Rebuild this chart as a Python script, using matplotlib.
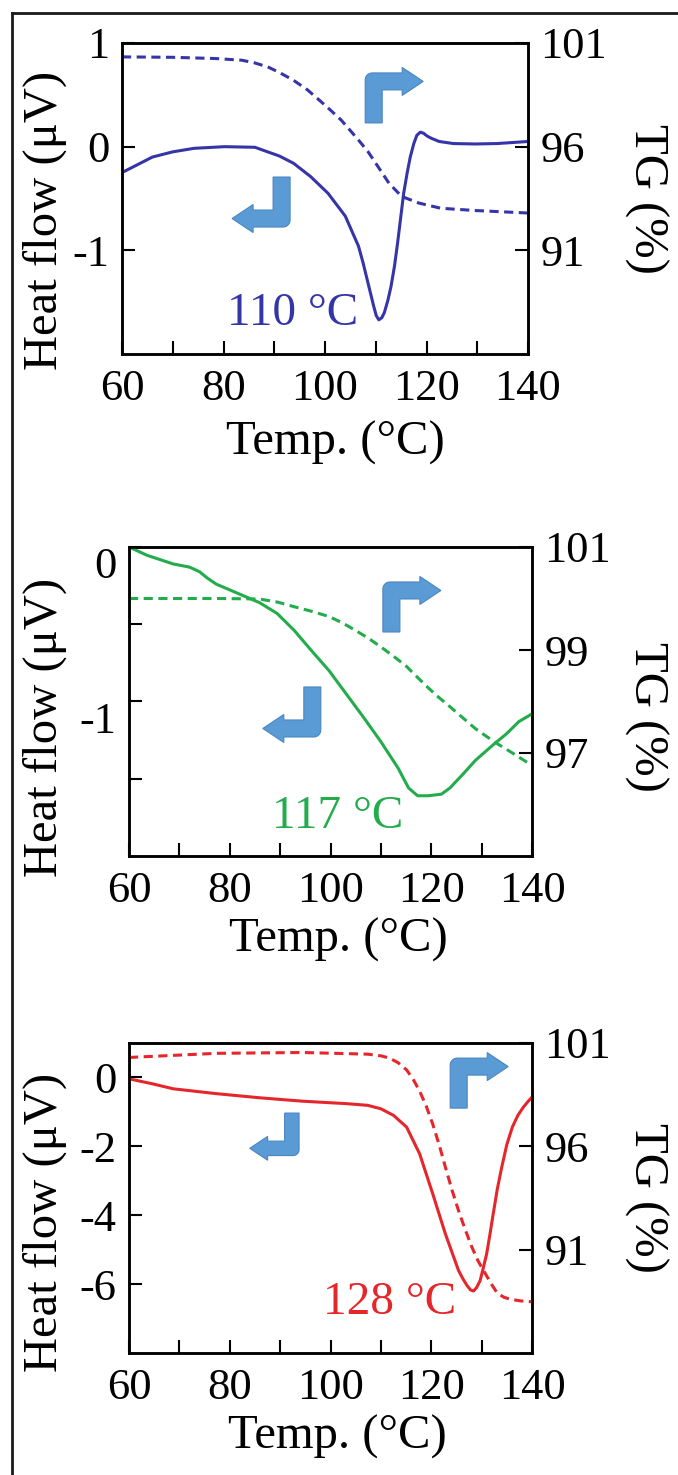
import numpy as np
import matplotlib
matplotlib.use("Agg")
import matplotlib.pyplot as plt
from matplotlib.patches import Polygon
from matplotlib.lines import Line2D
import matplotlib.transforms as mtransforms

plt.rcParams["font.family"] = ["Liberation Serif", "DejaVu Serif"]

# ── data ───────────────────────────────────────────────────────
# panel 1 (blue): DTA heat flow + TG
t1_hf = [60, 62, 64, 66, 70, 74.2, 80.2, 86.2, 88.7, 91, 93.8, 97.2, 100.6, 104,
         106.6, 107.5, 108.3, 109, 109.6, 110.1, 110.6, 111.2, 111.7, 112.4, 113,
         113.7, 114.3, 115, 115.5, 116.2, 116.8, 117.5, 118.1, 118.8, 119.4, 120.2,
         121, 122.5, 125.3, 129.6, 133.9, 140]
hf1 = [-0.25, -0.2, -0.15, -0.1, -0.05, -0.016, 0.0, -0.006, -0.05, -0.09, -0.16,
       -0.29, -0.45, -0.67, -0.96, -1.12, -1.28, -1.42, -1.54, -1.63, -1.67, -1.65,
       -1.60, -1.48, -1.35, -1.15, -0.93, -0.65, -0.45, -0.25, -0.10, 0.03, 0.11,
       0.14, 0.13, 0.10, 0.08, 0.05, 0.03, 0.026, 0.03, 0.05]
t1_tg = [60, 70, 78.5, 83.6, 86, 88.7, 91, 93.8, 96.5, 98.9, 101, 103.2, 106.6, 108.5,
         110, 112.6, 115.1, 118.5, 122.8, 129.6, 140]
tg1 = [100.33, 100.31, 100.25, 100.17, 100.05, 99.85, 99.58, 99.2, 98.75, 98.24,
       97.78, 97.28, 96.32, 95.75, 95.2, 94.24, 93.6, 93.28, 93.03, 92.92, 92.8]

# panel 2 (green)
t2_hf = [60, 63.6, 68.8, 72, 74, 75.5, 77.3, 81.6, 85.9, 89.4, 92.8, 96.2, 99.7,
         103.1, 106.5, 110, 113.4, 115.5, 117.3, 119.4, 122, 123.7, 126.3, 128.8,
         132.3, 134.9, 137.4, 140]
hf2 = [0.0, -0.054, -0.11, -0.13, -0.16, -0.2, -0.24, -0.30, -0.36, -0.43, -0.54,
       -0.67, -0.80, -0.95, -1.10, -1.26, -1.43, -1.56, -1.61, -1.61, -1.60, -1.56,
       -1.47, -1.38, -1.28, -1.21, -1.13, -1.08]
t2_tg = [60, 68.8, 78, 85.9, 89.5, 92.8, 96.3, 99.7, 102.3, 104.8, 107.5, 110,
         112.5, 115.1, 118.5, 121, 123.7, 126.3, 128.8, 131, 133.1, 135.3, 137.4, 140]
tg2 = [100.0, 100.0, 100.0, 99.99, 99.93, 99.84, 99.75, 99.65, 99.53, 99.39, 99.23,
       99.06, 98.88, 98.68, 98.35, 98.12, 97.9, 97.68, 97.47, 97.32, 97.18, 97.05,
       96.92, 96.76]

# panel 3 (red)
t3_hf = [60, 64.5, 68.8, 77.3, 85.9, 94.5, 103.1, 107.4, 110, 112.5, 115.1, 117.7,
         120.3, 122.8, 125.4, 126.3, 127.1, 127.8, 128.4, 129, 129.7, 130.3, 131,
         131.6, 132.3, 133.1, 134, 135, 136.1, 137.2, 138.3, 139.2, 140]
hf3 = [-0.04, -0.18, -0.33, -0.47, -0.59, -0.69, -0.76, -0.81, -0.91, -1.10, -1.44,
       -2.22, -3.38, -4.54, -5.6, -5.85, -6.04, -6.17, -6.2, -6.1, -5.9, -5.55,
       -5.12, -4.6, -3.96, -3.25, -2.6, -1.95, -1.44, -1.1, -0.86, -0.7, -0.57]
t3_tg = [60, 77.3, 94.5, 107.4, 110, 111.7, 113.4, 115.1, 116.4, 117.7, 119, 120.3,
         121.6, 122.8, 124.1, 125.4, 126.7, 128, 129.3, 130.6, 131.9, 133.1, 134.4,
         135.7, 137.8, 140]
tg3 = [100.3, 100.5, 100.54, 100.46, 100.38, 100.27, 100.05, 99.7, 99.25, 98.67,
       97.95, 97.07, 96.05, 95.0, 93.9, 92.9, 92.0, 91.16, 90.45, 89.9, 89.35, 88.9,
       88.7, 88.6, 88.52, 88.48]

peaks = ["110 °C", "117 °C", "128 °C"]
colors = ["#3535a8", "#22ac4c", "#e5262b"]
x_ticks = list(range(60, 141, 10))
x_labels = [str(v) if v % 20 == 0 else "" for v in x_ticks]

panels = [
    dict(t_hf=t1_hf, hf=hf1, t_tg=t1_tg, tg=tg1,
         ylim=(-2, 1), yticks=[-1, 0, 1], ylabels=["-1", "0", "1"],
         ylim2=(86, 101), yticks2=[91, 96, 101], ylabels2=["91", "96", "101"],
         rect=[122, 43, 528, 354], peak_xy=(93.6, -1.72),
         arrows=[((0.599, 0.743), 1.0), ((0.414, 0.569), -1.0)],
         yl=(-0.19, 0.43), yl2=(1.29, 0.5), xl=(0.525, -0.286), lab_shift=0),
    dict(t_hf=t2_hf, hf=hf2, t_tg=t2_tg, tg=tg2,
         ylim=(-2, 0), yticks=[-1.5, -1, -0.5, 0], ylabels=["", "-1", "", "0"],
         ylim2=(95, 101), yticks2=[97, 99, 101], ylabels2=["97", "99", "101"],
         rect=[129, 547, 532, 856], peak_xy=(101.5, -1.82),
         arrows=[((0.630, 0.725), 1.0), ((0.476, 0.547), -1.0)],
         yl=(-0.208, 0.417), yl2=(1.282, 0.45), xl=(0.52, -0.27), lab_shift=16),
    dict(t_hf=t3_hf, hf=hf3, t_tg=t3_tg, tg=tg3,
         ylim=(-8, 1), yticks=[-6, -4, -2, 0], ylabels=["-6", "-4", "-2", "0"],
         ylim2=(86, 101), yticks2=[91, 96, 101], ylabels2=["91", "96", "101"],
         rect=[129, 1043, 532, 1353], peak_xy=(111.8, -6.86),
         arrows=[((0.797, 0.79), 1.0), ((0.422, 0.774), -0.85)],
         yl=(-0.208, 0.42), yl2=(1.282, 0.5), xl=(0.516, -0.27), lab_shift=0),
]

W, H = 678, 1475
fig = plt.figure(figsize=(W / 100, H / 100), dpi=100)


def bent_arrow(ax, anchor, s):
    # bent arrow in pixel units, s>0: up then right, s<0: down then left
    sw, bt, Ht, hb, tip, hh, r = 17, 17, 50, 37, 58, 14, 7
    pts = [(0, 0), (sw, 0), (sw, Ht - bt), (hb, Ht - bt), (hb, Ht - bt / 2 - hh),
           (tip, Ht - bt / 2), (hb, Ht - bt / 2 + hh), (hb, Ht)]
    for a in np.linspace(90, 180, 8):
        pts.append((r + r * np.cos(np.radians(a)), Ht - r + r * np.sin(np.radians(a))))
    pts = np.array(pts) * s
    tr = (mtransforms.Affine2D().scale(fig.dpi / 100)
          + mtransforms.ScaledTranslation(anchor[0], anchor[1], ax.transAxes))
    ax.add_patch(Polygon(pts, closed=True, transform=tr, facecolor="#5b9bd5",
                         edgecolor="#4a86c0", lw=0.8, zorder=6, clip_on=False))


for p, c, peak in zip(panels, colors, peaks):
    x0, y0, x1, y1 = p["rect"]
    ax = fig.add_axes([x0 / W, 1 - y1 / H, (x1 - x0) / W, (y1 - y0) / H])
    ax2 = ax.twinx()

    ax.plot(p["t_hf"], p["hf"], color=c, lw=2.2, zorder=4)
    ax2.plot(p["t_tg"], p["tg"], color=c, lw=2.2, dashes=(3, 1.8))

    ax.set_xlim(60, 140)
    ax.set_ylim(*p["ylim"])
    ax2.set_ylim(*p["ylim2"])
    ax.set_xticks(x_ticks)
    ax.set_xticklabels(x_labels)
    ax.set_yticks(p["yticks"])
    ax.set_yticklabels(p["ylabels"])
    ax2.set_yticks(p["yticks2"])
    ax2.set_yticklabels(p["ylabels2"])

    ax.tick_params(axis="both", direction="in", length=9.5, width=1.5,
                   labelsize=32, pad=9)
    ax.tick_params(axis="x", pad=11)
    ax2.tick_params(axis="y", direction="in", length=9.5, width=1.5,
                    labelsize=32, pad=9)
    for a in (ax, ax2):
        for sp in a.spines.values():
            sp.set_linewidth(1.8)

    if p["lab_shift"]:
        off = mtransforms.ScaledTranslation(0, -p["lab_shift"] / 100, fig.dpi_scale_trans)
        for lab in ax.get_yticklabels():
            lab.set_transform(lab.get_transform() + off)

    ax.set_xlabel("Temp. (°C)", fontsize=35, va="center", ha="center")
    ax.xaxis.set_label_coords(*p["xl"])
    ax.set_ylabel("Heat flow (μV)", fontsize=35, va="center", ha="center")
    ax.yaxis.set_label_coords(*p["yl"])
    ax2.set_ylabel("TG (%)", fontsize=35, rotation=270, va="center", ha="center")
    ax2.yaxis.set_label_coords(*p["yl2"])

    ax.text(p["peak_xy"][0], p["peak_xy"][1], peak, color=c, fontsize=34,
            ha="center", va="baseline", zorder=5)

    for anchor, s in p["arrows"]:
        bent_arrow(ax2, anchor, s)

# outer frame (only top and left edges visible in the crop)
fig.add_artist(Line2D([12 / W, 1], [1 - 13 / H, 1 - 13 / H], transform=fig.transFigure,
                      color="#1a1a1a", lw=2))
fig.add_artist(Line2D([12 / W, 12 / W], [1 - 13 / H, 0], transform=fig.transFigure,
                      color="#1a1a1a", lw=2))

fig.savefig("out.png", dpi=100)
